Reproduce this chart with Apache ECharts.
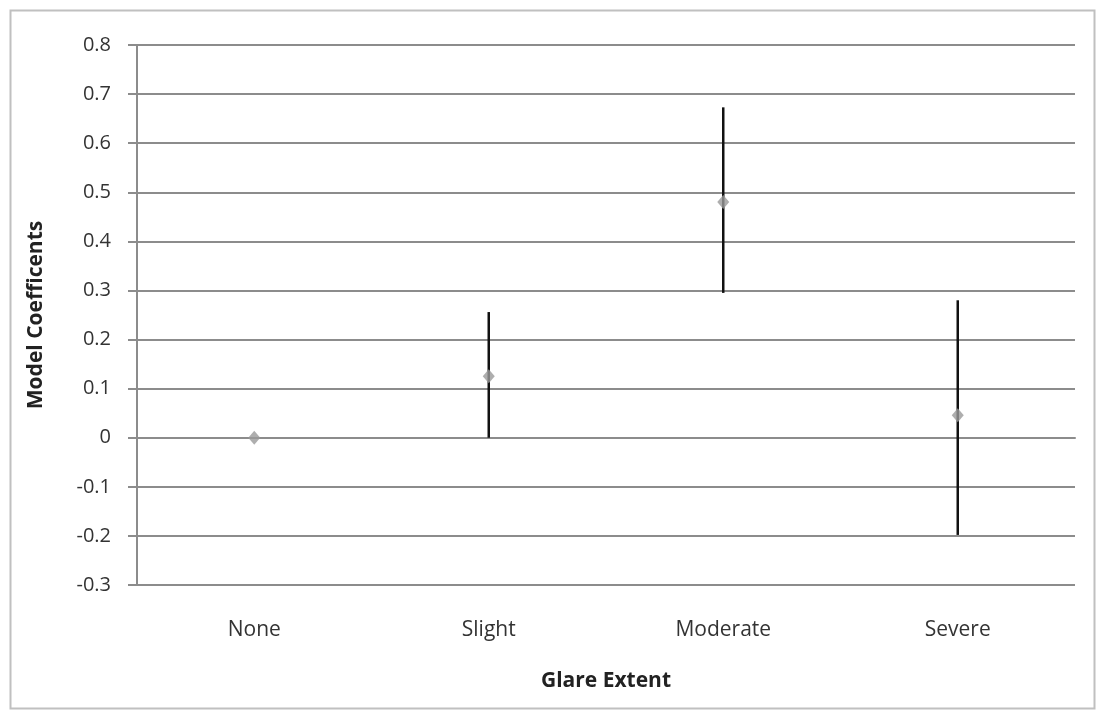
<!DOCTYPE html>
<html>
<head>
<meta charset="utf-8">
<script src="https://cdn.jsdelivr.net/npm/echarts@6/dist/echarts.min.js"></script>
<style>html,body{margin:0;padding:0;background:#fff;}#c{width:1101px;height:710px;}</style>
</head>
<body>
<div id="c"></div>
<script>
const categories = ['None', 'Slight', 'Moderate', 'Severe'];
const coefficients = [0, 0.125, 0.48, 0.046];
const lowerBounds = [0, 0, 0.295, -0.198];
const upperBounds = [0, 0.256, 0.673, 0.28];
const yTicks = [-0.3, -0.2, -0.1, 0, 0.1, 0.2, 0.3, 0.4, 0.5, 0.6, 0.7, 0.8];

const chart = echarts.init(document.getElementById('c'), null, {renderer: 'canvas'});
const font = '"Open Sans", "Noto Sans", sans-serif';
const errData = categories.map((c, i) => [i, lowerBounds[i], upperBounds[i]]);

chart.setOption({
  animation: false,
  backgroundColor: '#fff',
  graphic: [{
    type: 'rect', left: 8, top: 8,
    shape: {width: 1084, height: 698},
    style: {fill: 'none', stroke: '#c0c0c0', lineWidth: 2},
    silent: true
  }],
  grid: {left: 137, right: 26, top: 45, bottom: 125, containLabel: false},
  xAxis: {
    type: 'category',
    data: categories,
    boundaryGap: true,
    name: 'Glare Extent',
    nameLocation: 'middle',
    nameGap: 86,
    nameTextStyle: {fontFamily: font, fontSize: 21, fontWeight: 'bold', color: '#222'},
    axisLine: {show: true, lineStyle: {color: '#8c8c8c', width: 2}},
    axisTick: {show: false},
    axisLabel: {fontFamily: font, fontSize: 21, color: '#333', margin: 35}
  },
  yAxis: {
    type: 'value',
    min: -0.3, max: 0.8, interval: 0.1,
    name: 'Model Coefficents',
    nameLocation: 'middle',
    nameGap: 90,
    nameRotate: 90,
    nameTextStyle: {fontFamily: font, fontSize: 21, fontWeight: 'bold', color: '#222'},
    axisLine: {show: true, lineStyle: {color: '#8c8c8c', width: 2}},
    axisTick: {show: true, length: 9, lineStyle: {color: '#8c8c8c', width: 2}},
    axisLabel: {
      fontFamily: font, fontSize: 20, color: '#333', margin: 26,
      formatter: v => {
        const r = Math.round(v * 10) / 10;
        const t = yTicks.find(x => Math.abs(x - r) < 1e-9);
        return t === undefined ? '' : String(t);
      }
    },
    splitLine: {show: true, lineStyle: {color: '#8c8c8c', width: 2}}
  },
  series: [
    {
      type: 'custom',
      data: errData,
      z: 3,
      renderItem: (params, api) => {
        const lo = api.coord([api.value(0), api.value(1)]);
        const hi = api.coord([api.value(0), api.value(2)]);
        return {
          type: 'line',
          shape: {x1: lo[0], y1: lo[1], x2: hi[0], y2: hi[1]},
          style: {stroke: '#111', lineWidth: 2.5}
        };
      }
    },
    {
      type: 'scatter',
      data: coefficients,
      symbol: 'diamond',
      symbolSize: [12, 14],
      z: 4,
      itemStyle: {color: '#9a9a9a'}
    }
  ]
});
</script>
</body>
</html>
